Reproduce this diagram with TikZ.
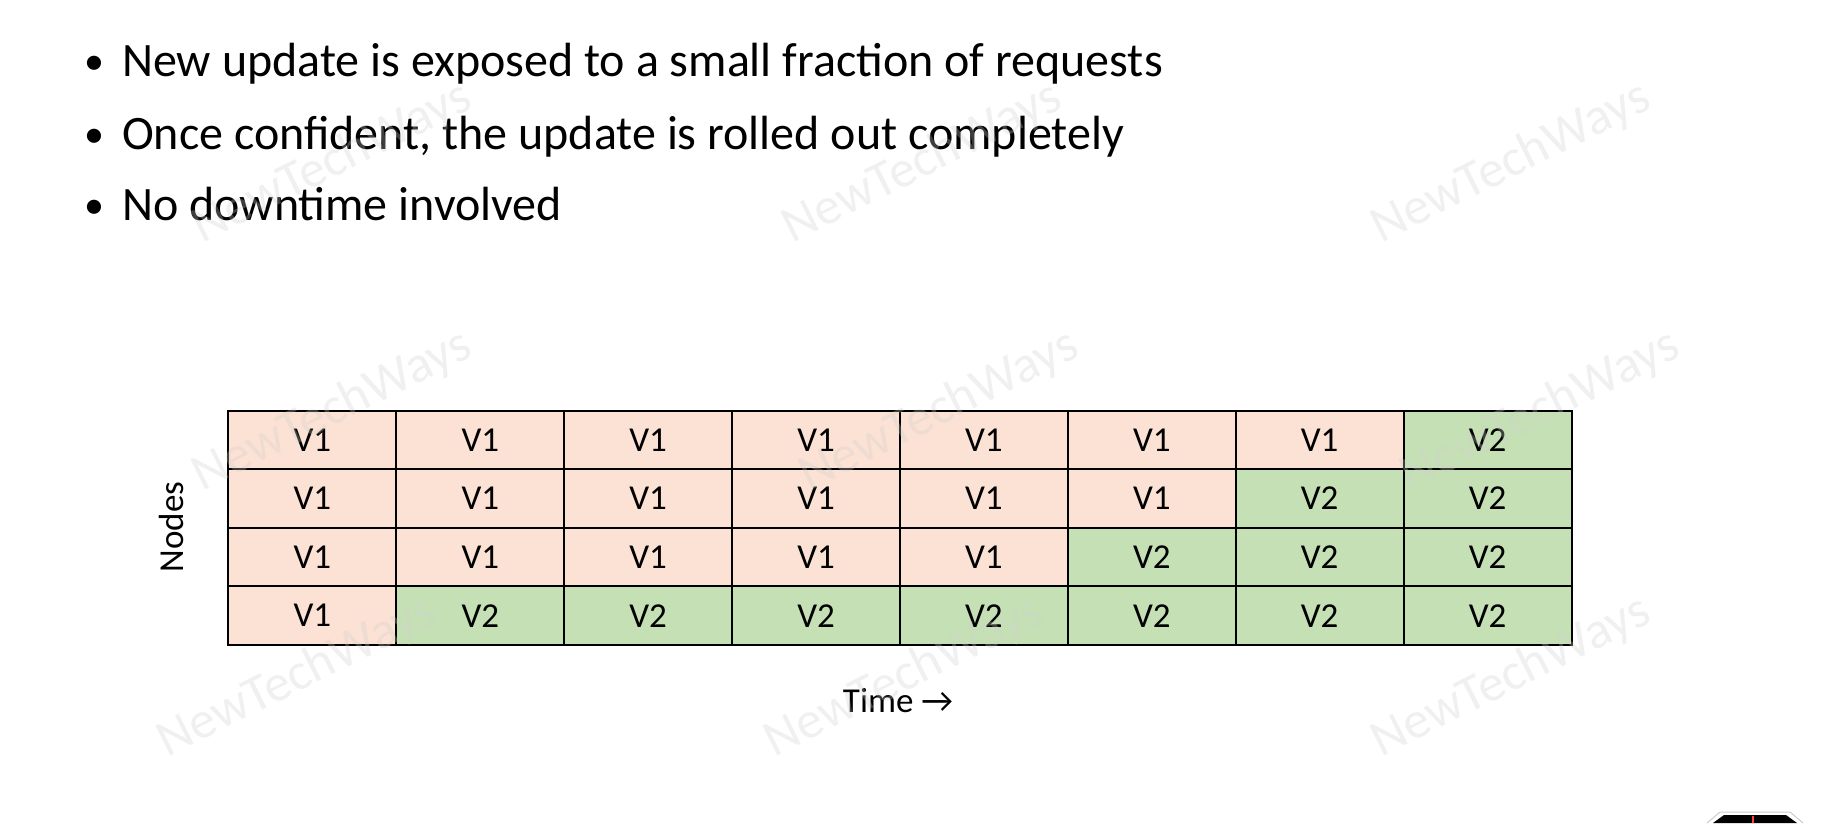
\documentclass[tikz,border=0pt]{standalone}
\usepackage{fontspec}
\setmainfont{Carlito}
\definecolor{oldfill}{HTML}{FBE2D5}
\definecolor{newfill}{HTML}{C5E0B4}
\definecolor{wmgray}{HTML}{D0D0D0}
\begin{document}
\begin{tikzpicture}[x=1pt,y=-1pt,
  cell/.style={draw=black, line width=2pt, fill=#1,
    minimum width=167.9pt, minimum height=58.6pt,
    inner sep=0pt, outer sep=0pt, font=\fontsize{35}{42}\selectfont},
  bulletmark/.style={inner sep=0pt, anchor=base, font=\fontsize{40}{48}\selectfont},
  itemtext/.style={inner sep=0pt, anchor=base west, font=\fontsize{48}{57}\selectfont},
  axislabel/.style={inner sep=0pt, anchor=base, font=\fontsize{35}{42}\selectfont},
  watermark/.style={inner sep=0pt, rotate=26.6, text=wmgray, text opacity=0.3,
    font=\fontsize{52}{60}\selectfont}]
\useasboundingbox (0,0) rectangle (1829,823);
\fill[white] (0,0) rectangle (1829,823);

% bullet list
\node[bulletmark] (b1) at (94.5,74) {•};
\node[itemtext] (t1) at (122,76) {New update is exposed to a small fraction of requests};
\node[bulletmark] (b2) at (94.5,147) {•};
\node[itemtext] (t2) at (122,149) {Once confident, the update is rolled out completely};
\node[bulletmark] (b3) at (94.5,218) {•};
\node[itemtext] (t3) at (122,220) {No downtime involved};

% rollout grid: row r switches to V2 from column t onwards
\foreach \r/\t in {1/8,2/7,3/6,4/2} {
  \foreach \c in {1,...,8} {
    \ifnum\c<\t\relax
      \def\cellfill{oldfill}\def\cellver{V1}%
    \else
      \def\cellfill{newfill}\def\cellver{V2}%
    \fi
    \node[cell=\cellfill] (cell-\r-\c)
      at ({228.5+167.875*(\c-0.5)},{410.5+58.625*(\r-0.5)}) {\cellver};
  }
}

% axis labels
\node[axislabel, rotate=90] (nodes) at (183,527) {Nodes};
\node[axislabel] (time) at (898,712) {Time →};

% watermarks
\foreach \wx/\wy [count=\i] in {332/163, 922/163, 1511/163,
                                332/411, 939/411, 1540/411,
                                297/677, 904/677, 1511/677} {
  \node[watermark] (wm-\i) at (\wx,\wy) {NewTechWays};
}

% corner logo
\fill[black] (1713,823) -- (1724,815) -- (1786,815) -- (1797,823) -- cycle;
\draw[gray!40, line width=1pt] (1707,823) -- (1720,812) -- (1790,812) -- (1803,823);
\draw[red!75!white, line width=2.5pt] (1753,816) -- (1753,823);
\end{tikzpicture}
\end{document}
